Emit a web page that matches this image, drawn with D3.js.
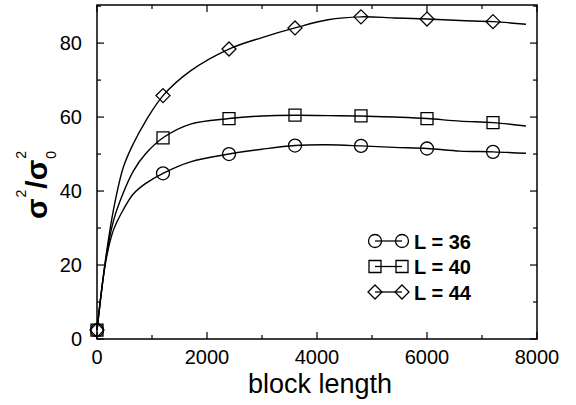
<!DOCTYPE html>
<html>
<head>
<meta charset="utf-8">
<script src="https://cdn.jsdelivr.net/npm/d3@7"></script>
<style>
  body { margin: 0; background: #fff; }
  svg { display: block; font-family: "Liberation Sans", Arial, Helvetica, sans-serif; }
</style>
</head>
<body>
<div id="chart"></div>
<script>
// values
const blockLength = [0, 160, 300, 480, 660, 880, 1200, 1700, 2400, 3000, 3600, 4200, 4800, 5400, 6000, 6600, 7200, 7800];
const ratioL36 = [2.4, 21, 29.5, 35, 39.2, 42.0, 44.8, 47.9, 50.0, 51.3, 52.3, 52.5, 52.2, 51.8, 51.5, 50.8, 50.6, 50.2];
const ratioL40 = [2.4, 21.5, 32, 39.6, 45.4, 50.0, 54.4, 58.1, 59.6, 60.3, 60.5, 60.4, 60.3, 60.0, 59.6, 58.9, 58.5, 57.6];
const ratioL44 = [2.4, 22, 35, 46.5, 52.8, 58.8, 65.8, 72.5, 78.4, 81.5, 84.1, 86.3, 87.1, 86.8, 86.5, 86.1, 85.8, 85.1];
const markerEvery = 1200;
const xTicks = [0, 2000, 4000, 6000, 8000];
const yTicks = [0, 20, 40, 60, 80];

const series = [
  { name: "L = 36", shape: "circle", values: ratioL36 },
  { name: "L = 40", shape: "square", values: ratioL40 },
  { name: "L = 44", shape: "diamond", values: ratioL44 }
];

const width = 576, height = 405;
const margin = { top: 5, right: 39, bottom: 66, left: 97 };

const svg = d3.select("#chart").append("svg")
    .attr("width", width)
    .attr("height", height);

const x = d3.scaleLinear()
    .domain([0, 8000])
    .range([margin.left, width - margin.right]);

const y = d3.scaleLinear()
    .domain([0, 90.3])
    .range([height - margin.bottom, margin.top]);

const line = d3.line()
    .x(d => x(d[0]))
    .y(d => y(d[1]))
    .curve(d3.curveCatmullRom.alpha(0.5));

function drawMarker(g, shape, cx, cy) {
    const s = g.append("path")
        .attr("fill", "none")
        .attr("stroke", "#000")
        .attr("stroke-width", 1.3)
        .attr("transform", `translate(${cx},${cy})`);
    if (shape === "circle") {
        s.attr("d", d3.arc()({ innerRadius: 0, outerRadius: 6.5, startAngle: 0, endAngle: 2 * Math.PI }));
    } else if (shape === "square") {
        s.attr("d", "M-6,-6H6V6H-6Z");
    } else {
        s.attr("d", "M0,-7L7,0L0,7L-7,0Z");
    }
}

// curves + markers
series.forEach(s => {
    const pts = blockLength.map((b, i) => [b, s.values[i]]);
    svg.append("path")
        .datum(pts)
        .attr("d", line)
        .attr("fill", "none")
        .attr("stroke", "#000")
        .attr("stroke-width", 1.4);
    const g = svg.append("g");
    pts.filter(p => p[0] % markerEvery === 0)
        .forEach(p => drawMarker(g, s.shape, x(p[0]), y(p[1])));
});

// frame
svg.append("rect")
    .attr("x", x(0))
    .attr("y", y(90.3))
    .attr("width", x(8000) - x(0))
    .attr("height", y(0) - y(90.3))
    .attr("fill", "none")
    .attr("stroke", "#000")
    .attr("stroke-width", 1.5);

// inward ticks on all four sides
const xMinor = d3.range(0, 8001, 1000);
const yMinor = d3.range(0, 91, 10);
function tickLen(v, major) { return major.includes(v) ? 7 : 4; }

const ticks = svg.append("g").attr("stroke", "#000").attr("stroke-width", 1.2);
xMinor.forEach(v => {
    const l = tickLen(v, xTicks);
    ticks.append("line").attr("x1", x(v)).attr("x2", x(v)).attr("y1", y(0)).attr("y2", y(0) - l);
    ticks.append("line").attr("x1", x(v)).attr("x2", x(v)).attr("y1", y(90.3)).attr("y2", y(90.3) + l);
});
yMinor.forEach(v => {
    const l = tickLen(v, yTicks);
    ticks.append("line").attr("x1", x(0)).attr("x2", x(0) + l).attr("y1", y(v)).attr("y2", y(v));
    ticks.append("line").attr("x1", x(8000)).attr("x2", x(8000) - l).attr("y1", y(v)).attr("y2", y(v));
});

// tick labels
svg.append("g").selectAll("text")
    .data(xTicks)
    .join("text")
    .attr("x", d => x(d))
    .attr("y", y(0) + 25)
    .attr("text-anchor", "middle")
    .attr("font-size", "20px")
    .text(d => d);

svg.append("g").selectAll("text")
    .data(yTicks)
    .join("text")
    .attr("x", x(0) - 15)
    .attr("y", d => y(d) + 7)
    .attr("text-anchor", "end")
    .attr("font-size", "20px")
    .text(d => d);

// axis titles
svg.append("text")
    .attr("x", (x(0) + x(8000)) / 2 + 3)
    .attr("y", 393)
    .attr("text-anchor", "middle")
    .attr("font-size", "27px")
    .text("block length");

const yt = svg.append("text")
    .attr("transform", "translate(47,219) rotate(-90)")
    .attr("font-size", "30px")
    .attr("font-weight", "bold");
yt.append("tspan").text("σ");
yt.append("tspan").attr("dx", 1).attr("dy", -21).attr("font-size", "14px").attr("font-weight", "normal").text("2");
yt.append("tspan").attr("dx", 1).attr("dy", 21).text("/σ");
yt.append("tspan").attr("dx", 1).attr("dy", -21).attr("font-size", "14px").attr("font-weight", "normal").text("2");
yt.append("tspan").attr("dx", -7.8).attr("dy", 30).attr("font-size", "14px").attr("font-weight", "normal").text("0");

// legend
const legend = svg.append("g");
series.forEach((s, i) => {
    const ly = 241 + i * 25.5;
    legend.append("line")
        .attr("x1", 375).attr("x2", 402)
        .attr("y1", ly).attr("y2", ly)
        .attr("stroke", "#000").attr("stroke-width", 1.3);
    drawMarker(legend, s.shape, 375, ly);
    drawMarker(legend, s.shape, 402, ly);
    legend.append("text")
        .attr("x", 414)
        .attr("y", ly + 7.5)
        .attr("font-size", "20px")
        .attr("font-weight", "bold")
        .text(s.name);
});
</script>
</body>
</html>
